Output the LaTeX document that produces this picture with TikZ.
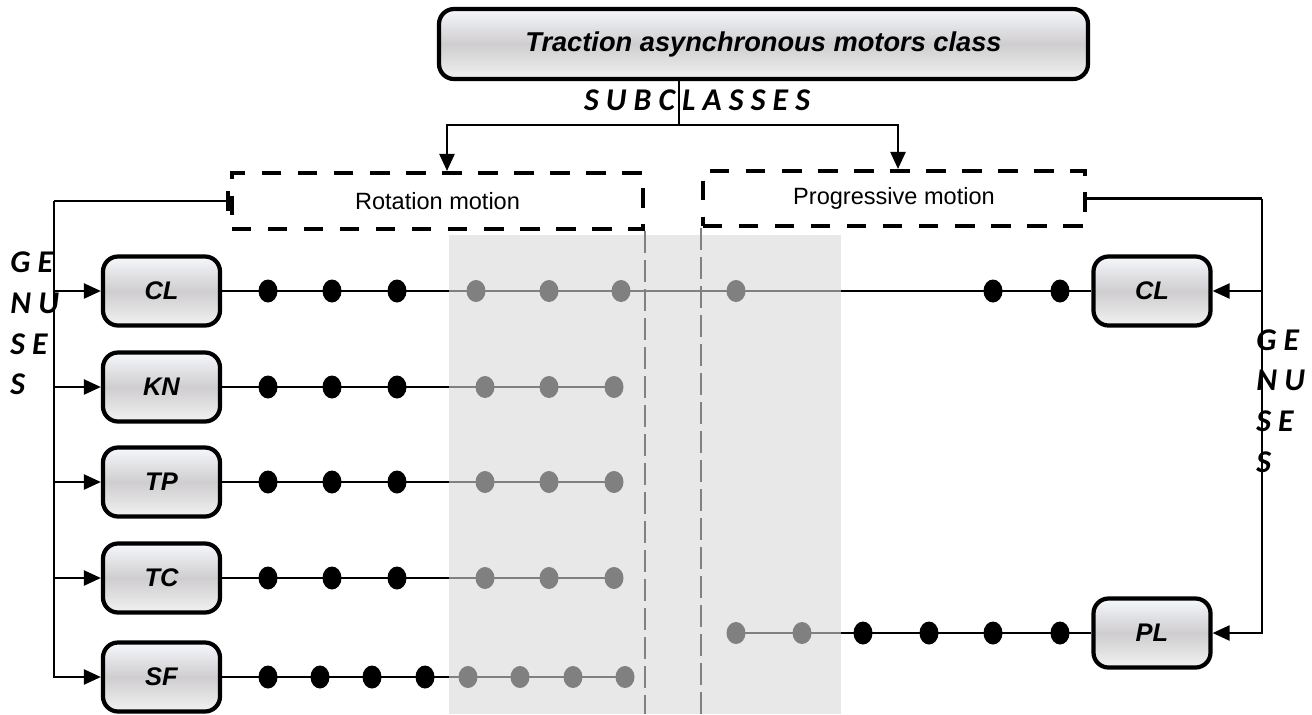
\documentclass[tikz,border=0pt]{standalone}
\usepackage{fontspec}
\setmainfont{Liberation Sans}
\newfontfamily\calibfont{Carlito}
\usetikzlibrary{calc, arrows.meta}

\definecolor{boxtop}{HTML}{F5F8FC}
\definecolor{boxmid}{HTML}{CFCDCF}
\definecolor{boxbot}{HTML}{F2F2F2}
\definecolor{shadegray}{HTML}{E8E8E8}
\definecolor{dotgray}{HTML}{808080}

\tikzset{
  classbox/.style={draw, line width=2.4pt, rounded corners=0.3cm, top color=boxtop, bottom color=boxbot, middle color=boxmid, minimum width=2.34cm, minimum height=1.38cm, font=\fontsize{14.5}{16}\selectfont\bfseries\itshape},
  motionbox/.style={draw, line width=2.3pt, dash pattern=on 11pt off 9.5pt, minimum height=1.12cm, font=\fontsize{13.4}{16}\selectfont},
  conn/.style={line width=1.3pt},
  grayconn/.style={line width=1.3pt, dotgray},
  headarrow/.style={-{Triangle[length=0.34cm,width=0.3cm]}},
  spaced/.style={font=\fontsize{18}{23.2}\selectfont\calibfont\bfseries\itshape, inner sep=0pt},
}

\begin{document}
\begin{tikzpicture}

\useasboundingbox (0,0) rectangle (26.24,-14.28);

% shaded band and the two split lines
\fill[shadegray] (8.98,-4.7) rectangle (16.82,-14.28);

\coordinate (split) at (13.58,-2.5);
\coordinate (gtop) at (1.08,-4.02);
\coordinate (gright) at (25.24,-3.97);

% class and subclasses
\node[classbox, minimum width=12.98cm, minimum height=1.4cm, font=\fontsize{15.5}{18}\selectfont\bfseries\itshape] (title) at (15.27,-0.88) {Traction asynchronous motors class};
\node[spaced] (subcl) at (13.94,-2.0) {S U B C L A S S E S};

\node[motionbox, minimum width=8.22cm] (rot) at (8.75,-4.02) {Rotation motion};
\node[motionbox, minimum width=7.64cm, minimum height=1.1cm] (prog) at (17.88,-3.97) {Progressive motion};

\draw[dotgray, line width=1.1pt, dash pattern=on 12.5pt off 4pt] (rot.south east) -- (rot.south east |- 0,-14.28);
\draw[dotgray, line width=1.1pt, dash pattern=on 12.5pt off 4pt] (prog.south west) -- (prog.south west |- 0,-14.28);

% genuses boxes
\node[classbox] (lcl) at (3.23,-5.82) {CL};
\node[classbox] (lkn) at (3.23,-7.74) {KN};
\node[classbox] (ltp) at (3.23,-9.64) {TP};
\node[classbox] (ltc) at (3.23,-11.56) {TC};
\node[classbox] (lsf) at (3.23,-13.54) {SF};

\node[classbox] (rcl) at (23.04,-5.82) {CL};
\node[classbox] (pl) at (23.04,-12.66) {PL};

\node[spaced, align=left, anchor=west] (genl) at (0.2,-6.47) {G E\\N U\\S E\\S};
\node[spaced, align=left, anchor=west] (genr) at (25.12,-8.02) {G E\\N U\\S E\\S};

% subclasses split
\draw[conn] (split |- title.south) -- (split);
\draw[conn, headarrow] (split) -| ([xshift=0.19cm]rot.north);
\draw[conn, headarrow] (split) -| ([xshift=0.08cm]prog.north);

% left bus
\draw[conn, -{Bar[width=0.4cm,line width=2pt]}] (gtop) -- (rot.west);
\draw[conn, headarrow] (gtop) |- (lsf.west);
\draw[conn, headarrow] (lcl.west -| gtop) -- (lcl.west);
\draw[conn, headarrow] (lkn.west -| gtop) -- (lkn.west);
\draw[conn, headarrow] (ltp.west -| gtop) -- (ltp.west);
\draw[conn, headarrow] (ltc.west -| gtop) -- (ltc.west);

% right bus
\draw[conn] (prog.east) -- (gright);
\draw[conn, headarrow] (gright) |- (pl.east);
\draw[conn, headarrow] (rcl.east -| gright) -- (rcl.east);

% CL row
\draw[conn] (lcl.east) -- (8.98,-5.82);
\draw[grayconn] (8.98,-5.82) -- (16.82,-5.82);
\draw[conn] (16.82,-5.82) -- (rcl.west);
\foreach \x in {5.36,6.64,7.94,19.86,21.2}
  \fill (\x,-5.82) ellipse (0.19 and 0.23);
\foreach \x in {9.52,10.98,12.42,14.72}
  \fill[dotgray] (\x,-5.82) ellipse (0.19 and 0.22);

% KN, TP, TC rows
\foreach \y/\b in {-7.74/lkn,-9.64/ltp,-11.56/ltc}{
  \draw[conn] (\b.east) -- (8.98,\y);
  \draw[grayconn] (8.98,\y) -- (12.28,\y);
  \foreach \x in {5.36,6.64,7.94}
    \fill (\x,\y) ellipse (0.19 and 0.23);
  \foreach \x in {9.7,10.98,12.28}
    \fill[dotgray] (\x,\y) ellipse (0.19 and 0.22);
}

% SF row
\draw[conn] (lsf.east) -- (8.98,-13.54);
\draw[grayconn] (8.98,-13.54) -- (12.5,-13.54);
\foreach \x in {5.36,6.4,7.44,8.5}
  \fill (\x,-13.54) ellipse (0.19 and 0.23);
\foreach \x in {9.36,10.4,11.46,12.5}
  \fill[dotgray] (\x,-13.54) ellipse (0.19 and 0.22);

% PL row
\draw[grayconn] (14.72,-12.66) -- (16.82,-12.66);
\draw[conn] (16.82,-12.66) -- (pl.west);
\foreach \x in {17.26,18.58,19.86,21.2}
  \fill (\x,-12.66) ellipse (0.19 and 0.23);
\foreach \x in {14.72,16.04}
  \fill[dotgray] (\x,-12.66) ellipse (0.19 and 0.22);

\end{tikzpicture}
\end{document}
